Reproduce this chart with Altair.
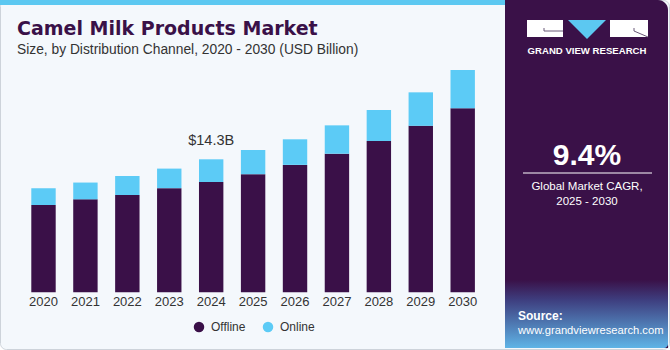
import altair as alt
import pandas as pd

# ---- data ----
years = [2020, 2021, 2022, 2023, 2024, 2025, 2026, 2027, 2028, 2029, 2030]
offline = [9.39, 10.0, 10.46, 11.2, 11.86, 12.7, 13.7, 14.9, 16.27, 17.9, 19.8]
online = [1.81, 1.80, 2.04, 2.10, 2.44, 2.60, 2.75, 3.05, 3.33, 3.60, 4.10]
channels = ["Offline", "Online"]
colors = ["#3A1048", "#5CCBF6"]
annot_year = 2024
annot_text = "$14.3B"

rows = []
for y, a, b in zip(years, offline, online):
    rows.append({"Year": y, "Channel": "Offline", "Value": a, "ord": 0})
    rows.append({"Year": y, "Channel": "Online", "Value": b, "ord": 1})
df = pd.DataFrame(rows)
tot = pd.DataFrame({"Year": years, "Total": [a + b for a, b in zip(offline, online)],
                    "Label": [str(y) for y in years]})
ann = tot[tot["Year"] == annot_year].assign(Text=annot_text)

one = pd.DataFrame({"k": [0]})
FONT = "Liberation Sans"
PURPLE = "#3A1148"

xscale = alt.Scale(domain=[2020, 2030], range=[43.5, 462.7], nice=False, zero=False, padding=0)
yscale = alt.Scale(domain=[0, 14.3], range=[292.3, 159.3], nice=False)

def rect(x, x2, y, y2, **kw):
    return alt.Chart(one).mark_rect(**kw).encode(
        x=alt.value(x), x2=alt.value(x2), y=alt.value(y), y2=alt.value(y2))

def txt(s, x, y, font=FONT, **kw):
    return alt.Chart(pd.DataFrame({"t": [s]})).mark_text(font=font, **kw).encode(
        x=alt.value(x), y=alt.value(y), text="t:N")

def rule(x, x2, y, y2, **kw):
    return alt.Chart(one).mark_rule(**kw).encode(
        x=alt.value(x), x2=alt.value(x2), y=alt.value(y), y2=alt.value(y2))

bg = rect(0.5, 669.5, 0.5, 349.5, fill="#F4F8FC", stroke="#CDD3DA", strokeWidth=1, cornerRadius=6)
stripe = rect(0, 506, 0, 5, fill="#5CC8F1")
panel = rect(505, 668, 0, 348, fill=PURPLE, cornerRadiusTopRight=10)
grad = rect(505, 668, 280, 348, cornerRadiusBottomRight=4, fill=alt.Gradient(
    gradient="linear", x1=0, x2=0, y1=0, y2=1,
    stops=[alt.GradientStop(offset=0, color=PURPLE),
           alt.GradientStop(offset=0.3, color="#3E3F80"),
           alt.GradientStop(offset=1, color="#5FB4E6")]))

# logo
logo_l = rect(527, 563, 20, 37, fill="white")
logo_r = rect(610, 648, 20, 37, fill="white")
logo_tri = alt.Chart(one).mark_point(shape="M-1,-0.5L1,-0.5L0,0.5Z", filled=True, size=1444,
                                     fill="#5CC8F1", opacity=1, strokeWidth=0).encode(
    x=alt.value(587), y=alt.value(29.5))
logo_g1 = rule(544, 563, 31, 31, stroke="#6B5A78", strokeWidth=1)
logo_g2 = rule(544, 544, 28, 31, stroke="#6B5A78", strokeWidth=1)
logo_r1 = rule(634, 648, 31, 37, stroke="#6B5A78", strokeWidth=1)
logo_r2 = rule(634, 634, 28, 31, stroke="#6B5A78", strokeWidth=1)
logo_txt = txt("GRAND VIEW RESEARCH", 587, 53.5, fontSize=9.6, fontWeight="bold", color="white",
               align="center", baseline="alphabetic")

cagr = txt("9.4%", 587, 165, fontSize=30, fontWeight="bold", color="white", align="center",
           baseline="alphabetic")
cagr_line = rule(523, 652, 173, 173, stroke="white", strokeWidth=1)
cagr1 = txt("Global Market CAGR,", 587, 190, fontSize=11.5, color="white", align="center",
            baseline="alphabetic")
cagr2 = txt("2025 - 2030", 587, 204.5, fontSize=11.5, color="white", align="center",
            baseline="alphabetic")
src1 = txt("Source:", 518, 320, fontSize=12, fontWeight="bold", color="white", align="left",
           baseline="alphabetic")
src2 = txt("www.grandviewresearch.com", 518, 334, fontSize=11.2, color="white", align="left",
           baseline="alphabetic")

title = txt("Camel Milk Products Market", 17, 35, font="DejaVu Sans", fontSize=19, fontWeight="bold",
            color="#3A1148", align="left", baseline="alphabetic")
subtitle = txt("Size, by Distribution Channel, 2020 - 2030 (USD Billion)", 17, 54, fontSize=13.8,
               color="#333333", align="left", baseline="alphabetic")

bars = alt.Chart(df).mark_bar(size=24.4).encode(
    x=alt.X("Year:Q", scale=xscale, axis=None),
    y=alt.Y("Value:Q", stack="zero", scale=yscale, axis=None),
    color=alt.Color("Channel:N", scale=alt.Scale(domain=channels, range=colors),
                    legend=alt.Legend(orient="none", legendX=193, legendY=321, direction="horizontal",
                                      title=None, symbolType="circle", symbolSize=110,
                                      symbolStrokeWidth=0, labelFont=FONT, labelFontSize=12,
                                      labelColor="#333333", columnPadding=16, labelOffset=6)),
    order=alt.Order("ord:Q"),
)

year_lbl = alt.Chart(tot).mark_text(font=FONT, fontSize=13, color="#333333", baseline="middle").encode(
    x=alt.X("Year:Q", scale=xscale, axis=None), y=alt.value(302), text="Label:N")

ann_lbl = alt.Chart(ann).mark_text(font=FONT, fontSize=14.5, color="#333333", baseline="middle",
                                   dy=-18).encode(
    x=alt.X("Year:Q", scale=xscale, axis=None),
    y=alt.Y("Total:Q", scale=yscale, axis=None), text="Text:N")

chart = alt.layer(
    bg, stripe, panel, grad,
    logo_l, logo_r, logo_tri, logo_g1, logo_g2, logo_r1, logo_r2, logo_txt,
    cagr, cagr_line, cagr1, cagr2, src1, src2,
    title, subtitle, bars, year_lbl, ann_lbl,
).properties(
    width=670, height=350, padding=0, autosize=alt.AutoSizeParams(type="none"),
    background="white",
).configure_view(stroke=None)

chart.save("out.html", embed_options={"renderer": "svg", "actions": False})
